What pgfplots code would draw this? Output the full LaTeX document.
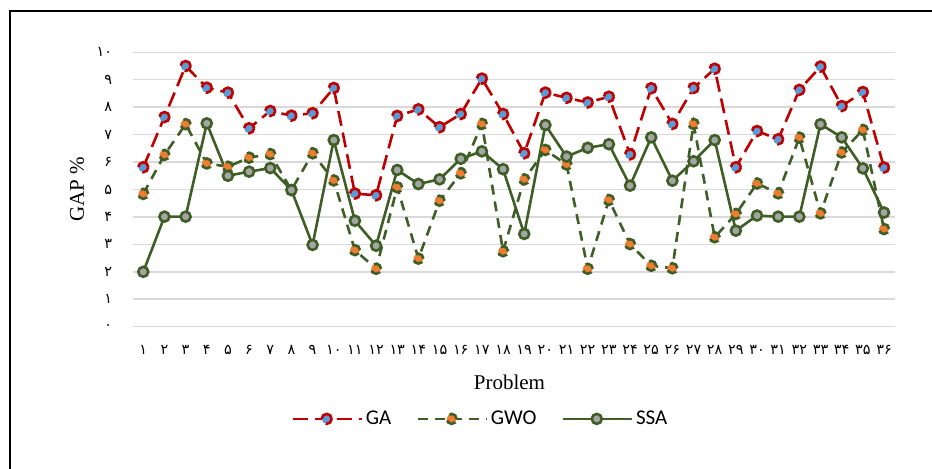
\documentclass[border=0pt]{standalone}
\usepackage{pgfplots}
\pgfplotsset{compat=1.18}
\usepackage{pgfplotstable}
\usepackage{fontspec}
\setmainfont{Liberation Serif}
\newfontfamily\fadigits[Script=Arabic]{DejaVu Sans}
\newfontfamily\legfont{Carlito}
\definecolor{gaR}{RGB}{192,0,0}
\definecolor{gaB}{RGB}{91,155,213}
\definecolor{grn}{RGB}{62,94,38}
\definecolor{orn}{RGB}{237,125,49}
\definecolor{gry}{RGB}{165,165,165}
\definecolor{gridc}{RGB}{217,217,217}
\pgfplotstableread{
x GA GWO SSA
1 5.81 4.84 2.00
2 7.64 6.26 4.01
3 9.50 7.38 4.01
4 8.71 5.95 7.41
5 8.53 5.83 5.50
6 7.23 6.16 5.65
7 7.86 6.29 5.78
8 7.69 4.98 4.98
9 7.78 6.32 2.98
10 8.70 5.33 6.80
11 4.85 2.79 3.86
12 4.79 2.11 2.95
13 7.68 5.08 5.71
14 7.92 2.48 5.20
15 7.27 4.59 5.37
16 7.75 5.59 6.12
17 9.04 7.39 6.39
18 7.75 2.75 5.74
19 6.32 5.37 3.38
20 8.53 6.44 7.35
21 8.34 5.91 6.20
22 8.17 2.11 6.52
23 8.38 4.62 6.65
24 6.28 3.01 5.14
25 8.69 2.22 6.90
26 7.39 2.13 5.32
27 8.70 7.39 6.03
28 9.40 3.26 6.80
29 5.81 4.11 3.50
30 7.13 5.22 4.05
31 6.83 4.86 4.01
32 8.63 6.89 4.01
33 9.48 4.13 7.38
34 8.04 6.35 6.90
35 8.55 7.17 5.77
36 5.80 3.56 4.16
}\datatable
\begin{document}
\begin{tikzpicture}[x=0.5pt,y=0.5pt]
\useasboundingbox (0,0) rectangle (932,469);
\draw[line width=1.15pt] (10,0) -- (10,458) -- (932,458);
\begin{axis}[
  at={(66.35pt,71.15pt)}, anchor=south west,
  scale only axis, width=380.95pt, height=137.2pt,
  xmin=0.5, xmax=36.5, ymin=0, ymax=10,
  axis line style={draw=none},
  major tick length=0pt,
  xtick={1,...,36},
  xticklabels={۱,۲,۳,۴,۵,۶,۷,۸,۹,۱۰,۱۱,۱۲,۱۳,۱۴,۱۵,۱۶,۱۷,۱۸,۱۹,۲۰,۲۱,۲۲,۲۳,۲۴,۲۵,۲۶,۲۷,۲۸,۲۹,۳۰,۳۱,۳۲,۳۳,۳۴,۳۵,۳۶},
  ytick={0,...,10},
  yticklabels={۰,۱,۲,۳,۴,۵,۶,۷,۸,۹,۱۰},
  tick label style={font=\fadigits\fontsize{7.2}{8}\selectfont},
  xticklabel style={anchor=center, yshift=-11.7pt},
  yticklabel style={anchor=east, xshift=-6.8pt},
  ymajorgrids,
  grid style={gridc, line width=0.75pt},
  xlabel={Problem},
  ylabel={GAP \%},
  label style={font=\fontsize{10.5}{12}\selectfont},
  xlabel style={at={(axis description cs:0.4945,-0.2016)}, anchor=center},
  ylabel style={at={(axis description cs:-0.0731,0.5)}, anchor=center},
  legend columns=3,
  legend style={draw=none, fill=none, at={(axis description cs:0.457,-0.336)}, anchor=center,
    font=\legfont\fontsize{10.5}{12}\selectfont,
    /tikz/every even column/.append style={column sep=11pt},
    nodes={inner sep=1.5pt}},
  legend image code/.code={\draw[mark repeat=2,mark phase=2,#1] plot coordinates {(0pt,0pt) (17pt,0pt) (34.5pt,0pt)};},
]
\addplot[gaR, line width=1.3pt, dash pattern=on 7.5pt off 3.5pt, mark=*, mark size=2.5pt, mark options={fill=gaB}] table[x=x,y=GA] {\datatable};
\addlegendentry{GA}
\addplot[grn, line width=1.3pt, dash pattern=on 5pt off 3.5pt, mark=*, mark size=2.5pt, mark options={fill=orn}] table[x=x,y=GWO] {\datatable};
\addlegendentry{GWO}
\addplot[grn, line width=1.3pt, mark=*, mark size=2.5pt, mark options={fill=gry}] table[x=x,y=SSA] {\datatable};
\addlegendentry{SSA}
\end{axis}
\end{tikzpicture}
\end{document}
